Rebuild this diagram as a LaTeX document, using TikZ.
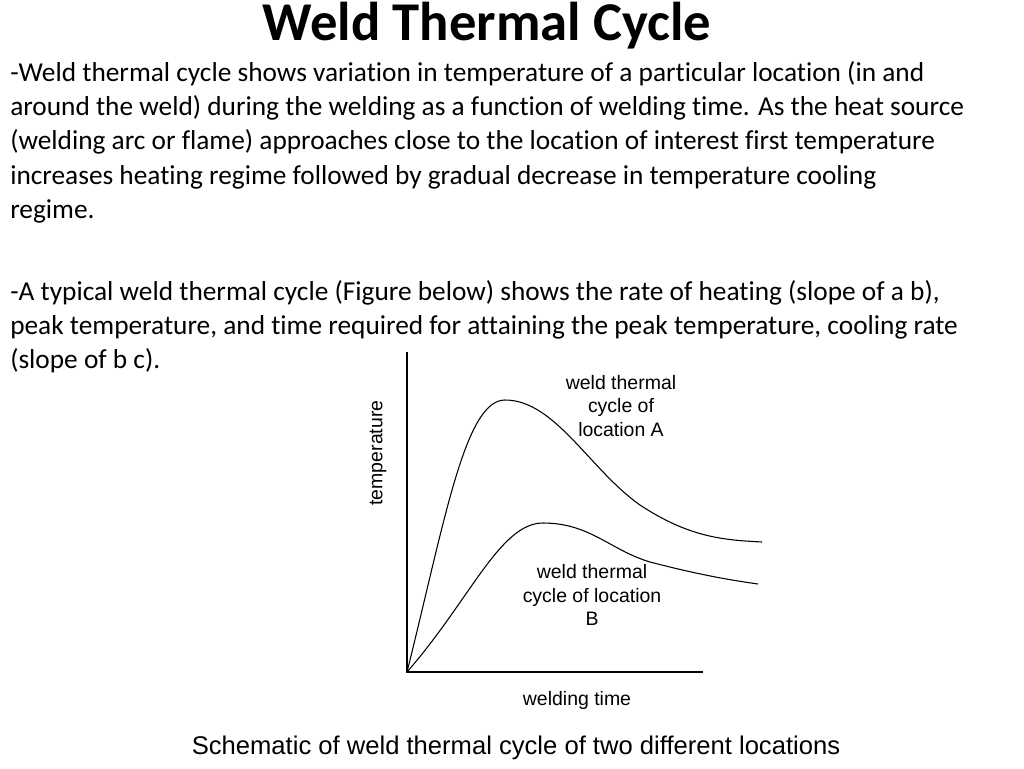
\documentclass[tikz,border=0pt]{standalone}
\usepackage{fontspec}
\setmainfont[Ligatures=NoCommon]{Carlito}
\newfontfamily\arialf{Liberation Sans}
\begin{document}
\begin{tikzpicture}[x=0.75pt,y=-0.75pt,
  body/.style={anchor=west,inner sep=0pt,font=\fontsize{20.5}{24}\selectfont},
  lab/.style={inner sep=0pt,align=center,font=\arialf\fontsize{14.6}{17.5}\selectfont},
  curve/.style={line width=0.8pt}]
\useasboundingbox (0,0) rectangle (1024,768);
\node[inner sep=0pt,font=\bfseries\fontsize{41}{46}\selectfont] (title) at (487,26) {Weld Thermal Cycle};
\node[body] (l1) at (10,74) {-Weld thermal cycle shows variation in temperature of a particular location (in and};
\node[body] (l2) at (10,108) {around the weld) during the welding as a function of welding time. As the heat source};
\node[body] (l3) at (10,142) {(welding arc or flame) approaches close to the location of interest first temperature};
\node[body] (l4) at (10,177) {increases heating regime followed by gradual decrease in temperature cooling};
\node[body] (l5) at (10,211) {regime.};
\node[body] (l6) at (10,293) {-A typical weld thermal cycle (Figure below) shows the rate of heating (slope of a b),};
\node[body] (l7) at (10,327) {peak temperature, and time required for attaining the peak temperature, cooling rate};
\node[body] (l8) at (10,361) {(slope of b c).};
\coordinate (o) at (407,672);
\coordinate (top) at (407,352);
\coordinate (right) at (703,672);
\draw[line width=0.8pt] (top) -- (o) -- (right);
\draw[curve] (o) .. controls (445,520) and (465,400) .. (505,400)
  .. controls (555,400) and (590,470) .. (640,505)
  .. controls (690,538) and (725,540) .. (762,542);
\draw[curve] (o) .. controls (470,600) and (500,523) .. (543,523)
  .. controls (590,523) and (610,550) .. (650,562)
  .. controls (700,575) and (730,580) .. (758,584);
\node[lab] (la) at (621,406) {weld thermal\\cycle of\\location A};
\node[lab] (lb) at (592,595) {weld thermal\\cycle of location\\B};
\node[lab,rotate=90] (ly) at (378,453) {temperature};
\node[lab] (lx) at (577,700) {welding time};
\node[inner sep=0pt,font=\arialf\fontsize{19.2}{22}\selectfont] (cap) at (516,748) {Schematic of weld thermal cycle of two different locations};
\end{tikzpicture}
\end{document}
